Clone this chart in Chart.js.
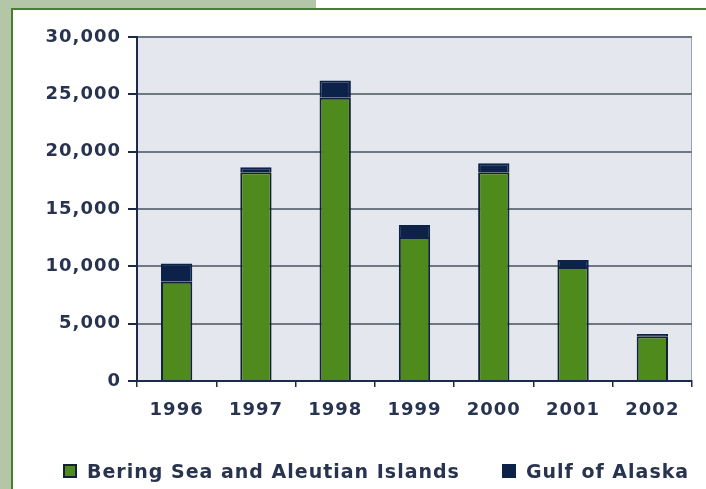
<!DOCTYPE html>
<html lang="en">
<head>
    <meta charset="UTF-8">
    <title>Bering Sea and Gulf of Alaska</title>
    <script src="https://cdn.jsdelivr.net/npm/chart.js"></script>
    <style>
        body {
            margin: 0;
            background-color: #fff;
            overflow: hidden;
            font-family: 'DejaVu Sans', sans-serif;
        }
        .strip-top {
            position: absolute; left: 0; top: 0;
            width: 316px; height: 9px;
            background-color: #b3c6a8;
        }
        .strip-left {
            position: absolute; left: 0; top: 0;
            width: 11px; height: 489px;
            background-color: #b3c6a8;
        }
        .panel {
            position: absolute; left: 11px; top: 8px;
            width: 695px; height: 481px;
            box-sizing: border-box;
            border-top: 2px solid #4b7d2f;
            border-left: 2px solid #4b7d2f;
            background-color: #fff;
        }
        canvas { display: block; }
        #legend {
            position: absolute; left: 63px; top: 459px;
            display: flex; align-items: center; gap: 42px;
            font-size: 19px; font-weight: bold; letter-spacing: 1px;
            color: #27334f; line-height: 24px; white-space: nowrap;
        }
        #legend .item { display: flex; align-items: center; }
        #legend .box {
            width: 14px; height: 14px; box-sizing: border-box;
            border: 2px solid; margin-right: 10px;
        }
    </style>
</head>
<body>
    <div class="strip-top"></div>
    <div class="strip-left"></div>
    <div class="panel">
        <canvas id="catchChart" width="693" height="479"></canvas>
    </div>
    <div id="legend"></div>

    <script>
        const years = ['1996', '1997', '1998', '1999', '2000', '2001', '2002'];
        const beringAleutian = [8650, 18200, 24700, 12550, 18200, 9950, 3900];
        const gulfOfAlaska = [1600, 450, 1500, 1050, 800, 600, 200];
        const yMax = 30000;
        const yStep = 5000;

        const navy = '#1e2b48';
        const gridGrey = '#6f7782';
        const textColor = '#27334f';

        // grey plot background, thin right edge, and a bit of letter spacing for canvas text
        const plotBack = {
            id: 'plotBack',
            afterInit(chart) { chart.ctx.letterSpacing = '1px'; },
            beforeUpdate(chart) { chart.ctx.letterSpacing = '1px'; },
            beforeDraw(chart) {
                const { ctx, chartArea: a } = chart;
                ctx.save();
                ctx.fillStyle = '#e4e8ee';
                ctx.fillRect(a.left, a.top, a.right - a.left, a.bottom - a.top);
                ctx.strokeStyle = '#9aa1aa';
                ctx.lineWidth = 1;
                ctx.beginPath();
                ctx.moveTo(a.right - 0.5, a.top);
                ctx.lineTo(a.right - 0.5, a.bottom);
                ctx.stroke();
                ctx.restore();
            }
        };

        const ctx = document.getElementById('catchChart').getContext('2d');
        const chart = new Chart(ctx, {
            type: 'bar',
            data: {
                labels: years,
                datasets: [
                    {
                        label: 'Bering Sea and Aleutian Islands',
                        data: beringAleutian,
                        backgroundColor: '#4f8a1c',
                        borderColor: '#132238',
                        borderWidth: 2
                    },
                    {
                        label: 'Gulf of Alaska',
                        data: gulfOfAlaska,
                        backgroundColor: '#0d2249',
                        borderColor: '#0d2249',
                        borderWidth: 2
                    }
                ]
            },
            options: {
                responsive: false,
                animation: false,
                barPercentage: 0.395,
                categoryPercentage: 1,
                layout: { padding: { left: 0, right: 14, top: 27, bottom: 67 } },
                scales: {
                    x: {
                        stacked: true,
                        afterFit: (s) => { s.height = 41; },
                        grid: {
                            drawOnChartArea: false,
                            tickLength: 6,
                            tickColor: navy,
                            lineWidth: 1.5
                        },
                        border: { color: navy, width: 2 },
                        ticks: {
                            color: textColor,
                            padding: 13,
                            font: { family: 'DejaVu Sans', size: 18, weight: 'bold' }
                        }
                    },
                    y: {
                        stacked: true,
                        min: 0,
                        max: yMax,
                        afterFit: (s) => { s.width = 124; },
                        grid: {
                            color: (c) => c.tick && c.tick.value === 0 ? navy : gridGrey,
                            lineWidth: 2,
                            tickLength: 9,
                            tickColor: navy
                        },
                        border: { color: navy, width: 2 },
                        ticks: {
                            stepSize: yStep,
                            color: textColor,
                            padding: 7,
                            font: { family: 'DejaVu Sans', size: 18, weight: 'bold' },
                            callback: (v) => v.toLocaleString('en-US')
                        }
                    }
                },
                plugins: {
                    legend: { display: false },
                    tooltip: { enabled: false }
                }
            },
            plugins: [plotBack]
        });

        // legend below the chart, built from the datasets
        const legend = document.getElementById('legend');
        chart.data.datasets.forEach((ds) => {
            const item = document.createElement('div');
            item.className = 'item';
            const box = document.createElement('span');
            box.className = 'box';
            box.style.backgroundColor = ds.backgroundColor;
            box.style.borderColor = ds.borderColor;
            const label = document.createElement('span');
            label.textContent = ds.label;
            item.appendChild(box);
            item.appendChild(label);
            legend.appendChild(item);
        });
    </script>
</body>
</html>
